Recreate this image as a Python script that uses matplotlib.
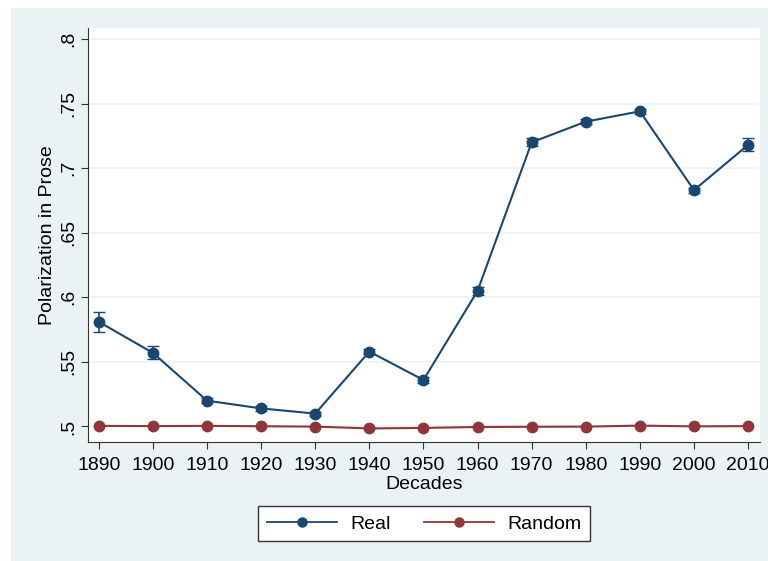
import numpy as np
import matplotlib.pyplot as plt
from matplotlib.lines import Line2D

plt.rcParams['font.family'] = ['Liberation Sans', 'DejaVu Sans']

# Datos
decades = np.array([1890, 1900, 1910, 1920, 1930, 1940, 1950, 1960, 1970, 1980, 1990, 2000, 2010])
real = np.array([0.581, 0.557, 0.520, 0.514, 0.510, 0.558, 0.536, 0.605, 0.720, 0.736, 0.744, 0.683, 0.718])
real_err = np.array([0.008, 0.005, 0.002, 0.002, 0.0015, 0.002, 0.002, 0.003, 0.003, 0.002, 0.002, 0.002, 0.005])
random = np.array([0.5005, 0.5003, 0.5005, 0.5002, 0.4999, 0.4985, 0.4989, 0.4996, 0.4998, 0.4999, 0.5007, 0.5001, 0.5003])
random_err = np.full(len(decades), 0.0008)

yticks = [0.5, 0.55, 0.6, 0.65, 0.7, 0.75, 0.8]
ytick_labels = ['.5', '.55', '.6', '.65', '.7', '.75', '.8']

navy = '#1a476f'
maroon = '#90353b'
bg = '#eaf2f3'

fig = plt.figure(figsize=(7.68, 5.61), dpi=100)
fig.patch.set_facecolor('white')
# fondo estilo Stata
fig.patches.append(plt.Rectangle((11 / 768, 0), 1 - 11 / 768, 1 - 8 / 561,
                                 transform=fig.transFigure, facecolor=bg, zorder=-10))

ax = fig.add_axes([88 / 768, 1 - 442 / 561, (760 - 88) / 768, (442 - 28) / 561])
ax.set_facecolor('white')

ax.errorbar(decades, real, yerr=real_err, color=navy, marker='o', markersize=7.5,
            linewidth=1.5, capsize=4, elinewidth=1.2, zorder=3)
ax.errorbar(decades, random, yerr=random_err, color=maroon, marker='o', markersize=7.5,
            linewidth=1.5, capsize=3, elinewidth=1.0, zorder=3)

ax.set_xlim(1888, 2012.2)
ax.set_ylim(0.488, 0.8085)
ax.set_xticks(decades)
ax.set_xticklabels([str(d) for d in decades], fontsize=14)
ax.set_yticks(yticks)
ax.set_yticklabels(ytick_labels, fontsize=14, rotation=90, va='center')
ax.grid(axis='y', color=bg, linewidth=1.2)
ax.set_axisbelow(True)
for s in ['top', 'right']:
    ax.spines[s].set_visible(False)
for s in ['left', 'bottom']:
    ax.spines[s].set_color('#333333')
ax.tick_params(length=5, color='#333333', pad=3)
ax.tick_params(axis='x', pad=6)

ax.set_xlabel('Decades', fontsize=14, labelpad=1)
ax.set_ylabel('Polarization in Prose', fontsize=14, labelpad=3)

handles = [Line2D([], [], color=navy, marker='o', markersize=6.5, linewidth=1.3),
           Line2D([], [], color=maroon, marker='o', markersize=6.5, linewidth=1.3)]
leg = ax.legend(handles, ['Real', 'Random'], loc='upper center', bbox_to_anchor=(0.5, -0.155),
                ncol=2, fontsize=14, frameon=True, fancybox=False, framealpha=1,
                facecolor='white', edgecolor='#333333', handlelength=3.6,
                handletextpad=0.7, columnspacing=1.7, borderpad=0.45, borderaxespad=0)
leg.get_frame().set_linewidth(1.0)

fig.savefig('out.png', dpi=100)
